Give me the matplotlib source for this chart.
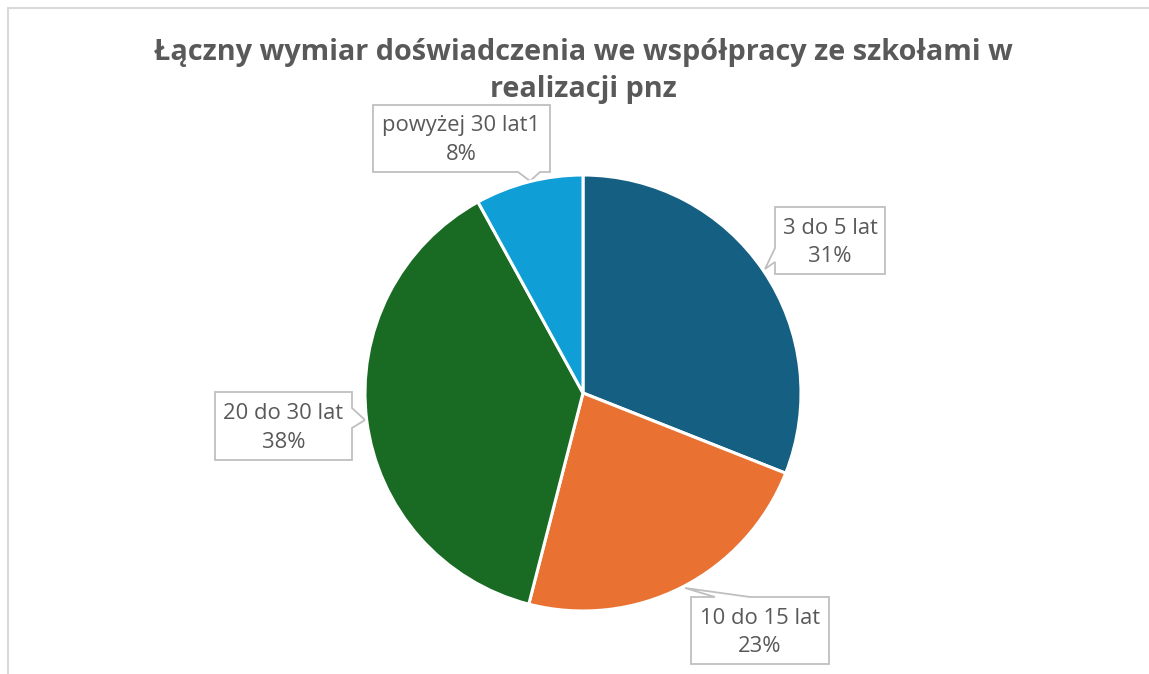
import matplotlib
matplotlib.use("Agg")
import matplotlib.pyplot as plt
from matplotlib.patches import Polygon
import numpy as np

# ---- data ----
title = "Łączny wymiar doświadczenia we współpracy ze szkołami w\nrealizacji pnz"
categories = ["3 do 5 lat", "10 do 15 lat", "20 do 30 lat", "powyżej 30 lat1"]
values = [31, 23, 38, 8]
pct_labels = ["31%", "23%", "38%", "8%"]
colors = ["#156082", "#E97132", "#196B24", "#0F9ED5"]

W, H = 1149, 674
fig = plt.figure(figsize=(W / 100, H / 100), dpi=100)
fig.patch.set_facecolor("white")

# overlay axes in pixel coordinates
ov = fig.add_axes([0, 0, 1, 1])
ov.set_xlim(0, W)
ov.set_ylim(H, 0)
ov.axis("off")

# chart frame (top and left visible)
ov.plot([7, W], [7.5, 7.5], color="#d9d9d9", lw=1.5, solid_capstyle="butt")
ov.plot([7.5, 7.5], [7, H], color="#d9d9d9", lw=1.5, solid_capstyle="butt")

# pie
cx, cy, r = 583, 393, 218
pax = fig.add_axes([(cx - r) / W, (H - cy - r) / H, 2 * r / W, 2 * r / H])
wedges, _ = pax.pie(values, colors=colors, startangle=90, counterclock=False,
                    wedgeprops=dict(edgecolor="white", linewidth=2.2))
for w in wedges:
    w.set_clip_on(False)
pax.set_xlim(-1, 1)
pax.set_ylim(-1, 1)
pax.set_aspect("equal")
pax.axis("off")

# title
ov.text(583, 71, title, ha="center", va="center", fontsize=20.8, fontweight="bold",
        color="#595959", family="Open Sans", linespacing=1.38)

# callouts: box (x0, y0, x1, y1), pointer base (p1, p2) and tip
callouts = {
    "3 do 5 lat": dict(box=(775, 207, 885, 274), side="left",
                       base=((775, 262), (775, 248)), tip=(765, 269)),
    "10 do 15 lat": dict(box=(691, 597, 829, 664), side="top",
                         base=((715, 597), (750, 597)), tip=(685, 588)),
    "20 do 30 lat": dict(box=(215, 392, 352, 460), side="right",
                         base=((352, 408), (352, 428)), tip=(365, 420)),
    "powyżej 30 lat1": dict(box=(373, 105, 550, 172), side="bottom",
                            base=((540, 172), (518, 172)), tip=(530, 181)),
}


def callout_poly(box, side, base, tip):
    x0, y0, x1, y1 = box
    b1, b2 = base
    if side == "top":
        pts = [(x0, y0), b1, tip, b2, (x1, y0), (x1, y1), (x0, y1)]
    elif side == "right":
        pts = [(x0, y0), (x1, y0), b1, tip, b2, (x1, y1), (x0, y1)]
    elif side == "bottom":
        pts = [(x0, y0), (x1, y0), (x1, y1), b1, tip, b2, (x0, y1)]
    else:  # left
        pts = [(x0, y0), (x1, y0), (x1, y1), (x0, y1), b1, tip, b2]
    return pts


for cat, pct in zip(categories, pct_labels):
    c = callouts[cat]
    pts = callout_poly(c["box"], c["side"], c["base"], c["tip"])
    ov.add_patch(Polygon(pts, closed=True, facecolor="white", edgecolor="#bfbfbf",
                         lw=1.3, joinstyle="miter"))
    x0, y0, x1, y1 = c["box"]
    ov.text((x0 + x1) / 2, (y0 + y1) / 2 + 2, f"{cat}\n{pct}", ha="center", va="center",
            fontsize=15.8, color="#595959", family="Open Sans", linespacing=1.5)

fig.savefig("out.png", dpi=100, facecolor="white")
